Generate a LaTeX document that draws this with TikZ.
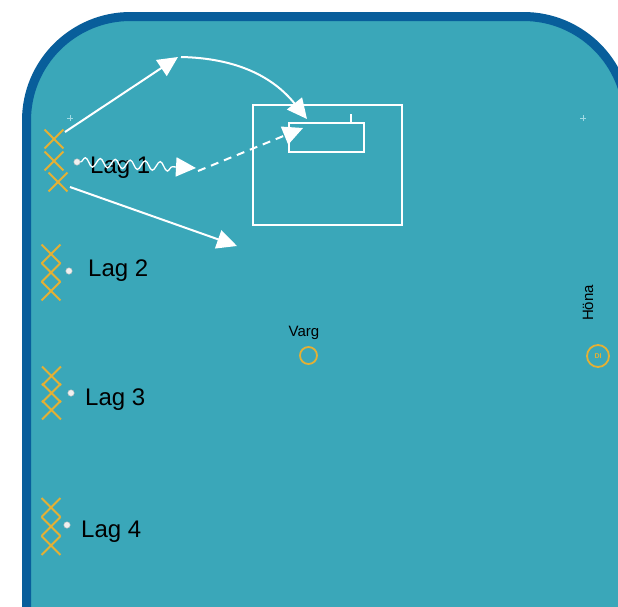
\documentclass[tikz,border=0pt]{standalone}
\usepackage{fontspec}
\setmainfont{Liberation Sans}
\usetikzlibrary{arrows.meta,decorations.pathmorphing,shapes.misc}
\definecolor{teal1}{RGB}{58,167,185}
\definecolor{frameblue}{RGB}{8,94,155}
\definecolor{gold}{RGB}{228,176,52}
\definecolor{plusc}{RGB}{160,218,228}
\begin{document}
\begin{tikzpicture}[x=1pt,y=-1pt,
  frame/.style={draw=frameblue,fill=teal1,line width=9pt,rounded corners=104pt},
  xmark/.style={cross out,draw=gold,line width=1.8pt,minimum size=17pt,inner sep=0pt},
  dotm/.style={circle,fill=gray!12,draw=gray!55,line width=0.4pt,minimum size=6.5pt,inner sep=0pt},
  lab/.style={font=\fontsize{24}{24}\selectfont,text=black,inner sep=0pt,anchor=base west},
  smalllab/.style={font=\fontsize{15}{15}\selectfont,text=black,inner sep=0pt},
  ring/.style={circle,draw=gold,line width=1.8pt,inner sep=0pt},
  arr/.style={draw=white,line width=2pt,-{Triangle[length=20pt,width=19pt]}},
  wave/.style={draw=white,line width=1.3pt,decorate,decoration={snake,amplitude=4.5pt,segment length=15pt}},
  box/.style={draw=white,line width=1.8pt},
  plus/.style={draw=plusc,line width=0.8pt}]
\useasboundingbox (0,0) rectangle (618,606);
\clip (0,0) rectangle (618,606);
\fill[white] (0,0) rectangle (618,606);
\draw[frame] (26.5,16.5) rectangle (627.5,720);
% faint plus marks
\draw[plus] (67,118)--(73,118) (70,115)--(70,121);
\draw[plus] (580,118)--(586,118) (583,115)--(583,121);
% field boxes
\draw[box] (253,105) rectangle (402,225);
\draw[box] (289,123) rectangle (364,152);
\draw[box] (351,114) -- (351,123);
% Lag 1
\node[xmark] (x11) at (54,139) {};
\node[xmark] (x12) at (54,161) {};
\node[xmark] (x13) at (58,182) {};
\node[dotm] (d1) at (77,162) {};
% Lag 2
\node[xmark] (x21) at (51,254) {};
\node[xmark] (x22) at (51,272.5) {};
\node[xmark] (x23) at (51,291) {};
\node[dotm] (d2) at (69,271) {};
\node[lab] (l2) at (88,276) {Lag 2};
% Lag 3
\node[xmark] (x31) at (51.5,376) {};
\node[xmark] (x32) at (51.5,393) {};
\node[xmark] (x33) at (51.5,410) {};
\node[dotm] (d3) at (71,393) {};
\node[lab] (l3) at (85,405) {Lag 3};
% Lag 4
\node[xmark] (x41) at (51,507.5) {};
\node[xmark] (x42) at (51,526.5) {};
\node[xmark] (x43) at (51,545.5) {};
\node[dotm] (d4) at (67,525) {};
\node[lab] (l4) at (81,537) {Lag 4};
% Varg and Hona
\node[smalllab,anchor=base] (varg) at (304,336) {Varg};
\node[ring,minimum size=17pt] (vargc) at (308.5,355.5) {};
\node[smalllab,anchor=base,rotate=90] (hona) at (593,303) {Höna};
\node[ring,minimum size=22pt,text=gold,font=\fontsize{7}{7}\selectfont\bfseries] (honac) at (598,356) {DI};
% arrows
\coordinate (a1s) at (65,132);
\coordinate (a1e) at (178,57);
\coordinate (a2s) at (181,57);
\coordinate (a2e) at (307,119);
\coordinate (wend) at (177,167);
\coordinate (wtip) at (196,168);
\coordinate (ds) at (198,171);
\coordinate (de) at (303,128);
\coordinate (a5s) at (70,187);
\coordinate (a5e) at (237,246);
\draw[arr] (a1s) -- (a1e);
\draw[arr] (a2s) to[bend left=25] (a2e);
\node[lab] (l1) at (90,173) {Lag 1};
\draw[wave] (d1.east) -- (wend);
\draw[arr] (wend) -- (wtip);
\draw[arr,dash pattern=on 8pt off 6pt] (ds) -- (de);
\draw[arr] (a5s) -- (a5e);
\end{tikzpicture}
\end{document}
